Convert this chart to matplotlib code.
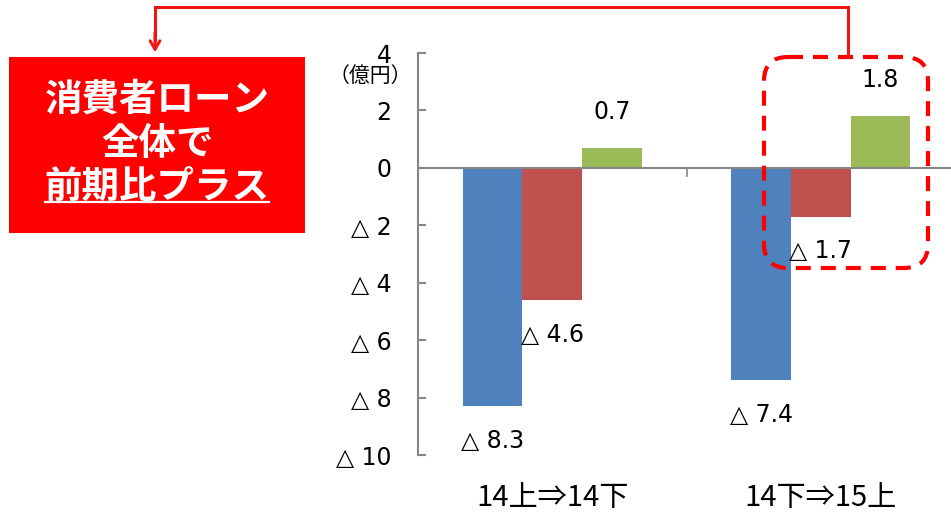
import matplotlib
matplotlib.use('Agg')
import matplotlib.pyplot as plt
import matplotlib.patches as patches
import numpy as np

plt.rcParams['font.family'] = ['DejaVu Sans', 'Noto Sans CJK JP']

# data
categorias = ['14上⇒14下', '14下⇒15上']
serie_azul = [-8.3, -7.4]
serie_roja = [-4.6, -1.7]
serie_verde = [0.7, 1.8]
yticks = [4, 2, 0, -2, -4, -6, -8, -10]
unidad = '（億円）'
mensaje = ['消費者ローン', '全体で', '前期比プラス']

colores = ['#4F81BD', '#C0504D', '#9BBB59']
W, H = 951, 515


def etiqueta(v):
    if v < 0:
        return f"△ {abs(v):g}"
    return f"{v:g}"


fig = plt.figure(figsize=(W/100, H/100), dpi=100)
ax = fig.add_axes([418/W, (H-455)/H, (W-418)/W, (455-53)/H])

x = np.arange(len(categorias))
ancho = 0.222
for k, serie in enumerate([serie_azul, serie_roja, serie_verde]):
    pos = x + (k-1)*ancho
    ax.bar(pos, serie, ancho, color=colores[k], zorder=2)
    for xi, v in zip(pos, serie):
        off = -25 if v < 0 else 26
        ax.annotate(etiqueta(v), (xi, v), xytext=(0, off), textcoords='offset points',
                    ha='center', va='center', fontsize=17, color='black')

ax.set_xlim(-0.5, -0.5 + (W-418)/268.5)
ax.set_ylim(-10, 4)
ax.axhline(0, color='#868686', lw=1.5, zorder=3)
ax.plot([0.5, 0.5], [0, -0.28], color='#868686', lw=1.2, zorder=3)

for s in ['top', 'right', 'bottom']:
    ax.spines[s].set_visible(False)
ax.spines['left'].set_color('#868686')
ax.spines['left'].set_linewidth(1.5)

ax.set_yticks(yticks)
ax.set_yticklabels([etiqueta(t) for t in yticks], fontsize=17)
ax.tick_params(axis='y', direction='in', length=6, width=1.5, color='#868686', pad=19)
ax.get_yticklabels()[0].set_y(4.4)
ax.set_xticks(x)
ax.set_xticklabels(categorias, fontsize=21, family=['Noto Sans CJK JP', 'DejaVu Sans'])
ax.tick_params(axis='x', length=0, pad=20)

# capa de anotaciones en pixeles
capa = fig.add_axes([0, 0, 1, 1], zorder=5)
capa.set_xlim(0, W)
capa.set_ylim(H, 0)
capa.axis('off')

capa.text(370, 76, unidad, ha='center', va='center', fontsize=15,
          family=['Noto Sans CJK JP', 'DejaVu Sans'])

capa.add_patch(patches.Rectangle((9, 57), 296, 176, facecolor='#FF0000', edgecolor='none'))
for texto, yy in zip(mensaje, [99, 144, 186]):
    capa.text(157, yy, texto, ha='center', va='center', color='white', fontsize=27,
              fontweight='bold', family=['Noto Sans CJK JP', 'DejaVu Sans'])
capa.plot([45, 269], [202, 202], color='white', lw=1.6)

# flecha
capa.plot([848, 848, 155, 155], [57, 7, 7, 40], color='#F01414', lw=2.2, solid_joinstyle='miter')
capa.annotate('', xy=(155, 55), xytext=(155, 30),
              arrowprops=dict(arrowstyle='->,head_length=0.6,head_width=0.35',
                              color='#F01414', lw=2.2))

# recuadro punteado
capa.add_patch(patches.FancyBboxPatch((764, 57), 164, 211,
                                      boxstyle='round,pad=0,rounding_size=24',
                                      facecolor='none', edgecolor='#FF0000', lw=3,
                                      linestyle=(0, (3.6, 2.4))))

fig.savefig('out.png', dpi=100)
